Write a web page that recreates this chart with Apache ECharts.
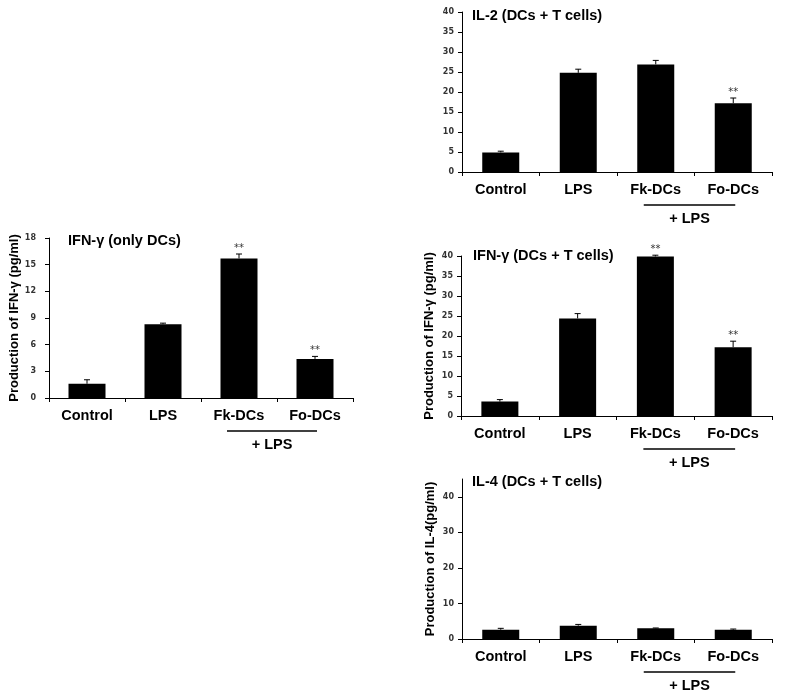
<!DOCTYPE html>
<html>
<head>
<meta charset="utf-8">
<script src="https://cdn.jsdelivr.net/npm/echarts@6/dist/echarts.min.js"></script>
<style>html,body{margin:0;padding:0;background:#fff}#c{width:785px;height:700px}</style>
</head>
<body>
<div id="c"></div>
<script>
// ---- data ----
const categories = ['Control', 'LPS', 'Fk-DCs', 'Fo-DCs'];

const ifnOnlyDCsMean = [1.6, 8.3, 15.7, 4.4];
const ifnOnlyDCsErr  = [0.45, 0.12, 0.5, 0.28];
const ifnOnlyDCsSig  = [false, false, true, true];

const il2Mean = [4.9, 24.8, 26.9, 17.2];
const il2Err  = [0.3, 0.9, 1.0, 1.3];
const il2Sig  = [false, false, false, true];

const ifnDCsTMean = [3.6, 24.4, 39.9, 17.2];
const ifnDCsTErr  = [0.5, 1.2, 0.3, 1.5];
const ifnDCsTSig  = [false, false, true, true];

const il4Mean = [2.6, 3.75, 3.0, 2.6];
const il4Err  = [0.4, 0.35, 0.1, 0.2];
const il4Sig  = [false, false, false, false];

const ticksIfnOnly = [0, 3, 6, 9, 12, 15, 18];
const ticksIl2 = [0, 5, 10, 15, 20, 25, 30, 35, 40];
const ticksIfnT = [0, 5, 10, 15, 20, 25, 30, 35, 40];
const ticksIl4 = [0, 10, 20, 30, 40];

const panels = [
  { title: 'IFN-γ (only DCs)', yName: 'Production of IFN-γ (pg/ml)', mean: ifnOnlyDCsMean, err: ifnOnlyDCsErr, sig: ifnOnlyDCsSig, ticks: ticksIfnOnly, max: 18, interval: 3,
    grid: { left: 49, top: 238, width: 304, height: 160 }, titlePos: { left: 63, top: 228 }, labelMargin: 13, nameGap: 28 },
  { title: 'IL-2 (DCs + T cells)', yName: '', mean: il2Mean, err: il2Err, sig: il2Sig, ticks: ticksIl2, max: 40, interval: 5,
    grid: { left: 462, top: 12, width: 310, height: 160 }, titlePos: { left: 467, top: 3 }, labelMargin: 8, nameGap: 25 },
  { title: 'IFN-γ (DCs + T cells)', yName: 'Production of IFN-γ (pg/ml)', mean: ifnDCsTMean, err: ifnDCsTErr, sig: ifnDCsTSig, ticks: ticksIfnT, max: 40, interval: 5,
    grid: { left: 461, top: 256, width: 311, height: 160 }, titlePos: { left: 468, top: 243 }, labelMargin: 8, nameGap: 25 },
  { title: 'IL-4 (DCs + T cells)', yName: 'Production of IL-4(pg/ml)', mean: il4Mean, err: il4Err, sig: il4Sig, ticks: ticksIl4, max: 45, interval: 10,
    grid: { left: 462, top: 479, width: 310, height: 160 }, titlePos: { left: 467, top: 469 }, labelMargin: 8, nameGap: 25 }
];

const FONT = '"Liberation Sans", Arial, sans-serif';
const chart = echarts.init(document.getElementById('c'), null, { renderer: 'canvas' });

const option = {
  backgroundColor: '#fff',
  animation: false,
  title: [], grid: [], xAxis: [], yAxis: [], series: []
};

panels.forEach((p, i) => {
  option.title.push({
    text: p.title, left: p.titlePos.left, top: p.titlePos.top,
    textStyle: { fontFamily: FONT, fontWeight: 'bold', fontSize: 14.5, color: '#000' }
  });
  option.grid.push(Object.assign({ containLabel: false }, p.grid));
  option.xAxis.push({
    type: 'category', gridIndex: i, data: categories,
    axisLine: { lineStyle: { color: '#000', width: 1 } },
    axisTick: { show: true, length: 4, lineStyle: { color: '#000' } },
    axisLabel: { fontFamily: FONT, fontWeight: 'bold', fontSize: 14.5, color: '#000', margin: 10, interval: 0 }
  });
  option.yAxis.push({
    type: 'value', gridIndex: i, min: 0, max: p.max, interval: p.interval,
    name: p.yName, nameLocation: 'middle', nameGap: p.nameGap,
    nameTextStyle: { fontFamily: FONT, fontWeight: 'bold', fontSize: 13, color: '#000' },
    splitLine: { show: false },
    axisLine: { show: true, lineStyle: { color: '#000', width: 1 } },
    axisTick: { show: true, length: 4, lineStyle: { color: '#000' }, customValues: p.ticks },
    axisLabel: { fontFamily: '"DejaVu Sans", sans-serif', fontWeight: 'bold', fontSize: 8, color: '#333', margin: p.labelMargin, customValues: p.ticks }
  });
  option.series.push({
    type: 'bar', xAxisIndex: i, yAxisIndex: i, data: p.mean,
    barWidth: 37, itemStyle: { color: '#000' }
  });
  option.series.push({
    type: 'custom', xAxisIndex: i, yAxisIndex: i, clip: false, z: 5,
    data: p.mean.map((m, k) => [k, m, p.err[k], p.sig[k] ? 1 : 0]),
    renderItem: function (params, api) {
      const k = api.value(0), m = api.value(1), e = api.value(2), s = api.value(3);
      const base = api.coord([k, m]);
      const top = api.coord([k, m + e]);
      const children = [
        { type: 'line', shape: { x1: base[0], y1: base[1], x2: top[0], y2: top[1] }, style: { stroke: '#000', lineWidth: 1 } },
        { type: 'line', shape: { x1: top[0] - 3, y1: top[1], x2: top[0] + 3, y2: top[1] }, style: { stroke: '#000', lineWidth: 1 } }
      ];
      if (s) {
        children.push({ type: 'text', style: { x: top[0], y: top[1] - 6, text: '**', textAlign: 'center', textVerticalAlign: 'middle',
          font: '10px "DejaVu Sans", sans-serif', fill: '#333' } });
      }
      return { type: 'group', children: children };
    }
  });
  // "+ LPS" bracket under Fk-DCs and Fo-DCs
  option.series.push({
    type: 'custom', xAxisIndex: i, yAxisIndex: i, clip: false, z: 5,
    data: [[2, 3]],
    renderItem: function (params, api) {
      const a = api.coord([api.value(0), 0]);
      const b = api.coord([api.value(1), 0]);
      const x1 = a[0] - 12, x2 = b[0] + 2, y = a[1] + 33;
      return { type: 'group', children: [
        { type: 'line', shape: { x1: x1, y1: y, x2: x2, y2: y }, style: { stroke: '#000', lineWidth: 1.5 } },
        { type: 'text', style: { x: (x1 + x2) / 2, y: y + 14, text: '+ LPS', textAlign: 'center', textVerticalAlign: 'middle',
          font: 'bold 14.5px "Liberation Sans", Arial, sans-serif', fill: '#000' } }
      ] };
    }
  });
});

chart.setOption(option);
</script>
</body>
</html>
